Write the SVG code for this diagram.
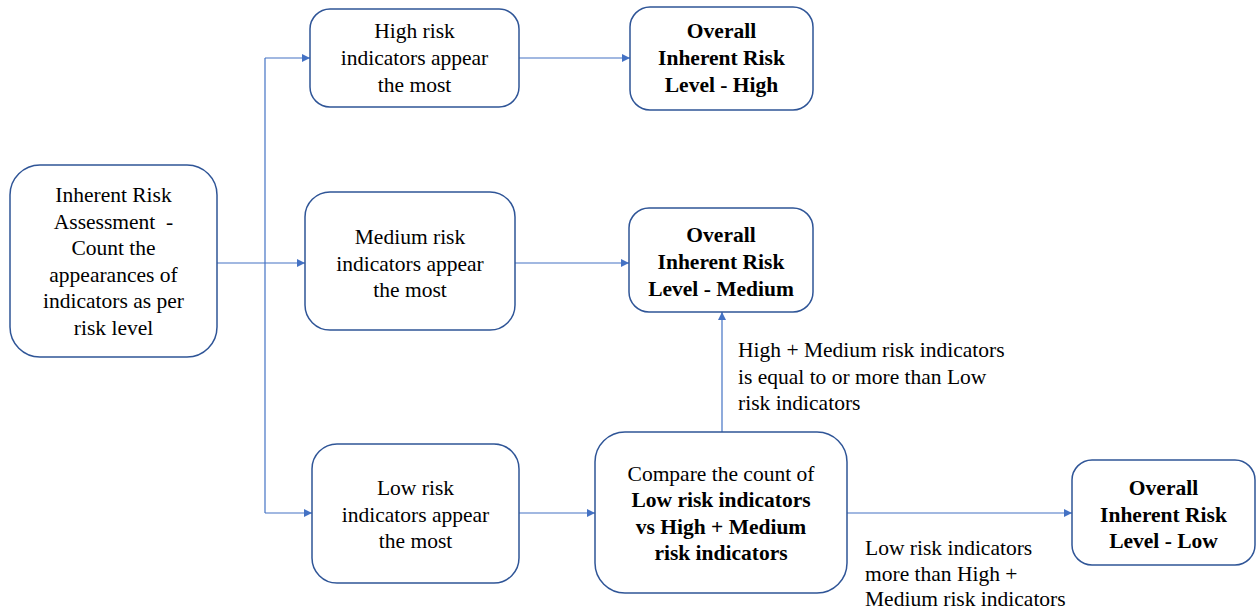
<svg xmlns="http://www.w3.org/2000/svg" width="1257" height="609" viewBox="0 0 1257 609">
  <style>
    .box { fill: #ffffff; stroke: #2f5597; stroke-width: 1.5; }
    .t { font-family: "Liberation Serif", "DejaVu Serif", serif; font-size: 21.5px; fill: #000000; text-anchor: middle; }
    .b { font-weight: bold; }
    .lbl { font-family: "Liberation Serif", "DejaVu Serif", serif; font-size: 21.5px; fill: #000000; }
    .conn { fill: none; stroke: #4472c4; stroke-width: 1.2; }
  </style>
  <defs>
    <marker id="arrow" viewBox="0 0 10 10" refX="10" refY="5" markerWidth="8" markerHeight="8" markerUnits="userSpaceOnUse" orient="auto">
      <path d="M0,0 L10,5 L0,10 z" fill="#4472c4"/>
    </marker>
  </defs>
  <rect width="1257" height="609" fill="#ffffff"/>

  <!-- flow lines: trunk from the assessment box, branches to each outcome -->
  <g id="connectors">
    <path class="conn" d="M217,263 H305" marker-end="url(#arrow)"/>
    <path class="conn" d="M265,58 V513"/>
    <path class="conn" d="M265,58 H310" marker-end="url(#arrow)"/>
    <path class="conn" d="M265,513 H312" marker-end="url(#arrow)"/>
    <path class="conn" d="M519,58 H630" marker-end="url(#arrow)"/>
    <path class="conn" d="M515,263 H629" marker-end="url(#arrow)"/>
    <path class="conn" d="M519,513 H595" marker-end="url(#arrow)"/>
    <path class="conn" d="M847,513 H1072" marker-end="url(#arrow)"/>
    <path class="conn" d="M722,432 V312" marker-end="url(#arrow)"/>
  </g>

  <g id="assessment">
    <rect class="box" x="10" y="165" width="207" height="192" rx="30"/>
    <text class="t" x="113.5" y="202">Inherent Risk</text>
    <text class="t" x="113.5" y="228.5" xml:space="preserve">Assessment  -</text>
    <text class="t" x="113.5" y="255">Count the</text>
    <text class="t" x="113.5" y="281.5">appearances of</text>
    <text class="t" x="113.5" y="308">indicators as per</text>
    <text class="t" x="113.5" y="334.5">risk level</text>
  </g>

  <g id="high-most">
    <rect class="box" x="310" y="9" width="209" height="98" rx="20"/>
    <text class="t" x="414.5" y="38">High risk</text>
    <text class="t" x="414.5" y="65">indicators appear</text>
    <text class="t" x="414.5" y="92">the most</text>
  </g>

  <g id="overall-high">
    <rect class="box" x="630" y="7" width="183" height="103" rx="20"/>
    <text class="t b" x="721.5" y="38">Overall</text>
    <text class="t b" x="721.5" y="65">Inherent Risk</text>
    <text class="t b" x="721.5" y="92">Level - High</text>
  </g>

  <g id="medium-most">
    <rect class="box" x="305" y="192" width="210" height="138" rx="25"/>
    <text class="t" x="410" y="244">Medium risk</text>
    <text class="t" x="410" y="270.5">indicators appear</text>
    <text class="t" x="410" y="297">the most</text>
  </g>

  <g id="overall-medium">
    <rect class="box" x="629" y="208" width="184" height="104" rx="20"/>
    <text class="t b" x="721" y="242">Overall</text>
    <text class="t b" x="721" y="269">Inherent Risk</text>
    <text class="t b" x="721" y="296">Level - Medium</text>
  </g>

  <g id="low-most">
    <rect class="box" x="312" y="444" width="207" height="139" rx="25"/>
    <text class="t" x="415.5" y="495">Low risk</text>
    <text class="t" x="415.5" y="521.5">indicators appear</text>
    <text class="t" x="415.5" y="548">the most</text>
  </g>

  <g id="compare">
    <rect class="box" x="595" y="432" width="252" height="161" rx="30"/>
    <text class="t" x="721" y="481">Compare the count of</text>
    <text class="t b" x="721" y="507">Low risk indicators</text>
    <text class="t b" x="721" y="533.5">vs High + Medium</text>
    <text class="t b" x="721" y="560">risk indicators</text>
  </g>

  <g id="overall-low">
    <rect class="box" x="1072" y="460" width="183" height="105" rx="20"/>
    <text class="t b" x="1163.5" y="495">Overall</text>
    <text class="t b" x="1163.5" y="522">Inherent Risk</text>
    <text class="t b" x="1163.5" y="548">Level - Low</text>
  </g>

  <g id="label-medium">
    <text class="lbl" x="738" y="357">High + Medium risk indicators</text>
    <text class="lbl" x="738" y="383.5">is equal to or more than Low</text>
    <text class="lbl" x="738" y="410">risk indicators</text>
  </g>

  <g id="label-low">
    <text class="lbl" x="865" y="555">Low risk indicators</text>
    <text class="lbl" x="865" y="581">more than High +</text>
    <text class="lbl" x="865" y="606">Medium risk indicators</text>
  </g>
</svg>
